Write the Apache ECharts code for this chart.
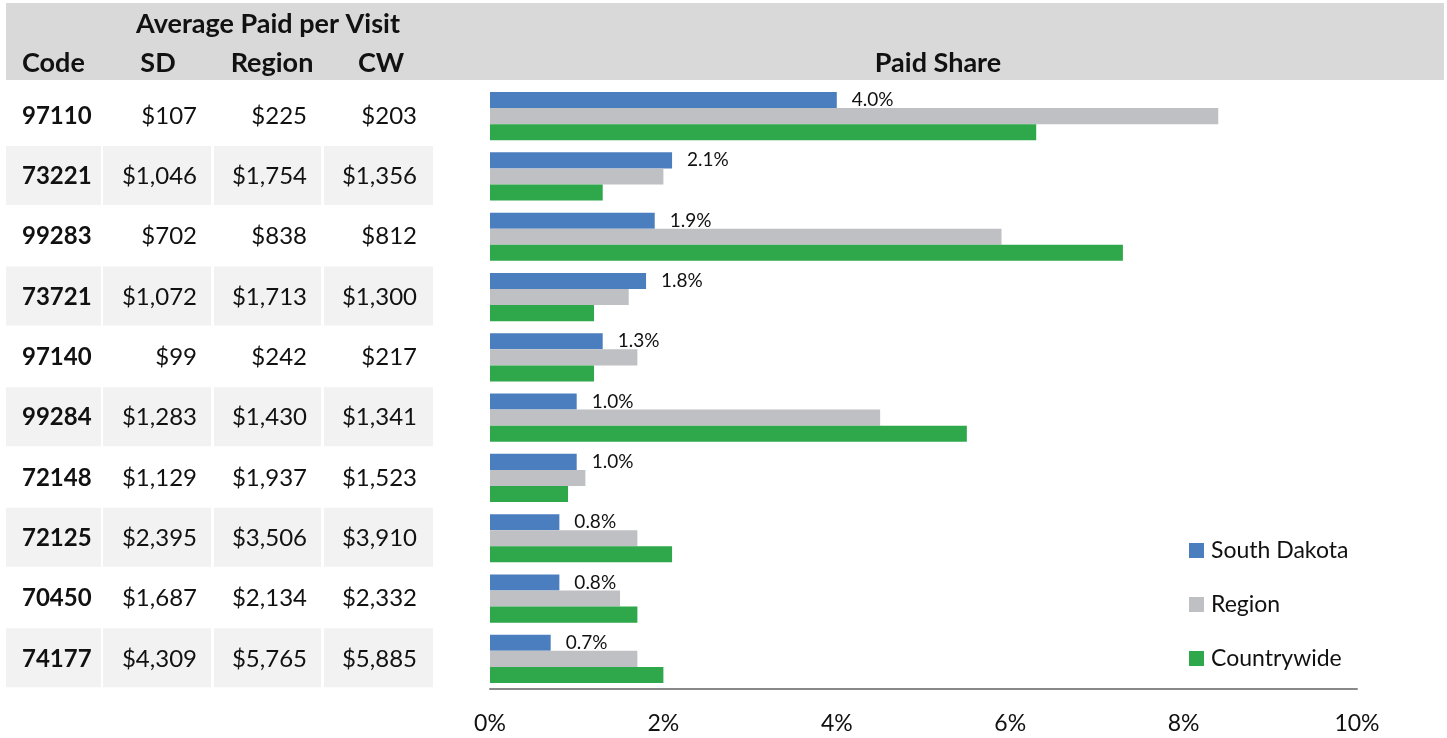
<!DOCTYPE html>
<html>
<head>
<meta charset="utf-8">
<script src="https://cdn.jsdelivr.net/npm/echarts@6/dist/echarts.min.js"></script>
<style>
  html, body { margin: 0; padding: 0; background: #fff; }
  #chart { width: 1447px; height: 738px; }
</style>
</head>
<body>
<div id="chart"></div>
<script>
// Procedure codes, top to bottom
const codes = ['97110', '73221', '99283', '73721', '97140', '99284', '72148', '72125', '70450', '74177'];

// Average paid per visit (table columns)
const avgSD     = ['$107', '$1,046', '$702', '$1,072', '$99', '$1,283', '$1,129', '$2,395', '$1,687', '$4,309'];
const avgRegion = ['$225', '$1,754', '$838', '$1,713', '$242', '$1,430', '$1,937', '$3,506', '$2,134', '$5,765'];
const avgCW     = ['$203', '$1,356', '$812', '$1,300', '$217', '$1,341', '$1,523', '$3,910', '$2,332', '$5,885'];

// Paid share, in percent
const shareSD     = [4.0, 2.1, 1.9, 1.8, 1.3, 1.0, 1.0, 0.8, 0.8, 0.7];
const shareRegion = [8.4, 2.0, 5.9, 1.6, 1.7, 4.5, 1.1, 1.7, 1.5, 1.7];
const shareCW     = [6.3, 1.3, 7.3, 1.2, 1.2, 5.5, 0.9, 2.1, 1.7, 2.0];

const xTicks = { min: 0, max: 10, interval: 2 };

const FONT = 'Lato, "Noto Sans", sans-serif';
const COLORS = { sd: '#4a7ebf', region: '#bfc0c4', cw: '#2ea84a' };

const chart = echarts.init(document.getElementById('chart'), null, { renderer: 'canvas' });

const option = {
  animation: false,
  backgroundColor: '#ffffff',
  textStyle: { fontFamily: FONT },
  grid: { left: 490, right: 90, top: 86, bottom: 49, containLabel: false },
  legend: {
    orient: 'vertical',
    left: 1189,
    top: 539,
    padding: 0,
    itemWidth: 15,
    itemHeight: 15,
    itemGap: 31,
    icon: 'rect',
    textStyle: { fontFamily: FONT, fontSize: 23, color: '#111', padding: [0, 0, 0, 2] },
    data: ['South Dakota', 'Region', 'Countrywide']
  },
  xAxis: {
    type: 'value',
    min: xTicks.min,
    max: xTicks.max,
    interval: xTicks.interval,
    axisLine: { show: true, lineStyle: { color: '#898989', width: 2 } },
    axisTick: { show: false },
    splitLine: { show: false },
    axisLabel: {
      formatter: '{value}%',
      fontFamily: FONT,
      fontSize: 23,
      color: '#111',
      margin: 23
    }
  },
  yAxis: {
    type: 'category',
    inverse: true,
    data: codes,
    axisLine: { show: false },
    axisTick: { show: false },
    axisLabel: { show: false },
    splitLine: { show: false }
  },
  series: [
    {
      name: 'South Dakota',
      type: 'bar',
      data: shareSD,
      barGap: '0%',
      barCategoryGap: '20%',
      itemStyle: { color: COLORS.sd },
      label: {
        show: true,
        position: 'right',
        distance: 15,
        fontFamily: FONT,
        fontSize: 19,
        color: '#111',
        formatter: p => p.value.toFixed(1) + '%'
      }
    },
    {
      name: 'Region',
      type: 'bar',
      data: shareRegion,
      barGap: '0%',
      barCategoryGap: '20%',
      itemStyle: { color: COLORS.region }
    },
    {
      name: 'Countrywide',
      type: 'bar',
      data: shareCW,
      barGap: '0%',
      barCategoryGap: '20%',
      itemStyle: { color: COLORS.cw }
    }
  ]
};

chart.setOption(option);

// Table on the left: rows line up with the category bands of the bar chart
const cols = [
  { x0: 6,   x1: 101, textX: 22,  align: 'left',  values: codes,     bold: true },
  { x0: 103, x1: 211, textX: 197, align: 'right', values: avgSD,     bold: false },
  { x0: 214, x1: 321, textX: 307, align: 'right', values: avgRegion, bold: false },
  { x0: 324, x1: 433, textX: 417, align: 'right', values: avgCW,     bold: false }
];

const graphics = [];

// Header band
graphics.push({
  type: 'rect', z: 0, silent: true,
  shape: { x: 6, y: 3, width: 1438, height: 77 },
  style: { fill: '#d9d9d9' }
});

const headStyle = (text, x, y, align) => ({
  type: 'text', z: 5, silent: true, x, y,
  style: {
    text, fill: '#111', font: 'bold 27px ' + FONT,
    textAlign: align, textVerticalAlign: 'middle'
  }
});

graphics.push(headStyle('Average Paid per Visit', 268, 24, 'center'));
graphics.push(headStyle('Code', 22, 63, 'left'));
graphics.push(headStyle('SD', 158, 63, 'center'));
graphics.push(headStyle('Region', 272, 63, 'center'));
graphics.push(headStyle('CW', 381, 63, 'center'));
graphics.push(headStyle('Paid Share', 938, 63, 'center'));

const rowH = 59;
codes.forEach((code, i) => {
  const cy = chart.convertToPixel({ yAxisIndex: 0 }, code);
  const shaded = i % 2 === 1;
  cols.forEach(col => {
    if (shaded) {
      graphics.push({
        type: 'rect', z: 1, silent: true,
        shape: { x: col.x0, y: cy - rowH / 2 - 1, width: col.x1 - col.x0, height: rowH },
        style: { fill: '#f2f2f2' }
      });
    }
    graphics.push({
      type: 'text', z: 5, silent: true,
      x: col.textX, y: cy,
      style: {
        text: col.values[i],
        fill: '#111',
        font: (col.bold ? 'bold ' : '') + '24px ' + FONT,
        textAlign: col.align,
        textVerticalAlign: 'middle'
      }
    });
  });
});

chart.setOption({ graphic: { elements: graphics } });
</script>
</body>
</html>
